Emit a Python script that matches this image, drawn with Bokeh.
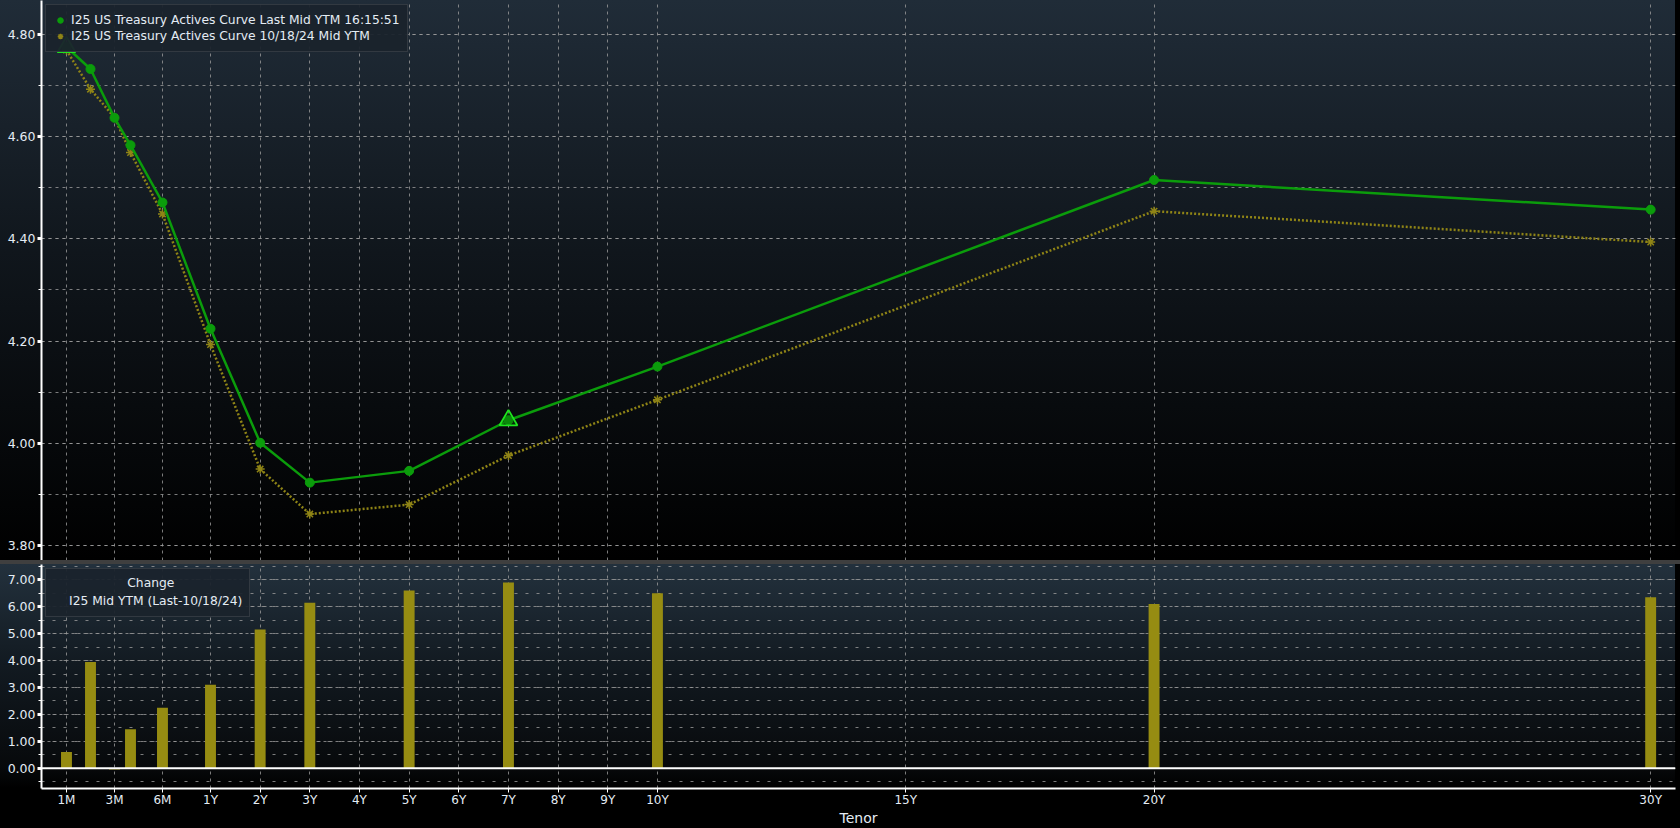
import numpy as np
from bokeh.plotting import figure
from bokeh.layouts import column
from bokeh.models import (Range1d, FixedTicker, NumeralTickFormatter, Legend, LegendItem,
                          ColumnDataSource, Span)
from bokeh.embed import file_html
from bokeh.resources import INLINE

# ---------------- data ----------------
tenors = ["1M", "2M", "3M", "4M", "6M", "1Y", "2Y", "3Y", "5Y", "7Y", "10Y", "20Y", "30Y"]
tenor_months = [1, 2, 3, 4, 6, 12, 24, 36, 60, 84, 120, 240, 360]
last_ytm = [4.775, 4.732, 4.6365, 4.583, 4.471, 4.224, 4.001, 3.923, 3.946, 4.045, 4.150, 4.515, 4.457]
prior_ytm = [4.769, 4.6925, 4.637, 4.5685, 4.4485, 4.193, 3.9495, 3.8615, 3.880, 3.976, 4.085, 4.454, 4.3935]
change_bp = [0.6, 3.95, -0.05, 1.45, 2.25, 3.1, 5.15, 6.15, 6.6, 6.9, 6.5, 6.1, 6.35]
flag_tenors = ["1M", "7Y"]

tick_labels = ["1M", "3M", "6M", "1Y", "2Y", "3Y", "4Y", "5Y", "6Y", "7Y", "8Y", "9Y", "10Y", "15Y", "20Y", "30Y"]
tick_months = [1, 3, 6, 12, 24, 36, 48, 60, 72, 84, 96, 108, 120, 180, 240, 360]

top_ticks = [3.8, 4.0, 4.2, 4.4, 4.6, 4.8]
bot_ticks = [0, 1, 2, 3, 4, 5, 6, 7]

legend_last = "I25 US Treasury Actives Curve Last Mid YTM 16:15:51"
legend_prior = "I25 US Treasury Actives Curve 10/18/24 Mid YTM"
legend_change_title = "Change"
legend_change = "I25 Mid YTM (Last-10/18/24)"


# tenor axis: expanded sub-year segment, linear in years beyond 1Y
def tenor_x(months):
    m = np.asarray(months, dtype=float)
    sub = np.interp(m, [1, 3, 6, 12], [-1.9, -0.933, 0.033, 1.0])
    return np.where(m <= 12, sub, m / 12.0)


xs = tenor_x(tenor_months)
tick_x = [float(v) for v in tenor_x(tick_months)]
label_over = {t: l for t, l in zip(tick_x, tick_labels)}

src = ColumnDataSource(dict(x=xs, last=last_ytm, prior=prior_ytm, chg=change_bp, tenor=tenors))
flag_idx = [tenors.index(t) for t in flag_tenors]
flag_src = ColumnDataSource(dict(x=[xs[i] for i in flag_idx], y=[last_ytm[i] for i in flag_idx]))

GREEN = "#0b9c0b"
OLIVE = "#8f8416"
BAR = "#968c12"
GRID = "#9a9a9a"
TXT = "#e4ecf4"
FONT = "DejaVu Sans"
FS = "12.3px"
W = 1680
RIGHT_STRIP = "linear-gradient(to right, rgba(0,0,0,0) 1675px, #000000 1675px)"

x_range = Range1d(-2.403, 30.50)

# ---------------- top chart ----------------
p1 = figure(width=W, height=560, x_range=x_range, y_range=Range1d(3.7707, 4.866),
            output_backend="svg", toolbar_location=None,
            min_border_left=41, min_border_right=5, min_border_top=0, min_border_bottom=0)
p1.background_fill_alpha = 0
p1.border_fill_alpha = 0
p1.outline_line_color = None
p1.styles = {"background": RIGHT_STRIP + ", linear-gradient(to bottom, #202c38 0%, #10161c 45%, #000000 100%)"}

p1.xaxis.visible = False
p1.xaxis.ticker = FixedTicker(ticks=tick_x)
p1.yaxis.ticker = FixedTicker(ticks=top_ticks, minor_ticks=[round(3.7 + 0.1 * i, 2) for i in range(12)])
p1.yaxis.formatter = NumeralTickFormatter(format="0.00")
for ax in p1.yaxis:
    ax.axis_line_color = "white"
    ax.axis_line_width = 2
    ax.major_tick_line_color = "white"
    ax.major_tick_line_width = 3
    ax.major_tick_out = 4
    ax.major_tick_in = 0
    ax.minor_tick_line_color = "white"
    ax.minor_tick_out = 3
    ax.minor_tick_in = 0
    ax.major_label_text_color = TXT
    ax.major_label_text_font = FONT
    ax.major_label_text_font_size = "12.5px"
    ax.major_label_standoff = 2

p1.xgrid.grid_line_color = GRID
p1.xgrid.grid_line_dash = "3 4"
p1.xgrid.grid_line_alpha = 0.8
p1.ygrid.grid_line_color = GRID
p1.ygrid.grid_line_dash = "3 4"
p1.ygrid.grid_line_alpha = 0.8
p1.ygrid.minor_grid_line_color = GRID
p1.ygrid.minor_grid_line_dash = "3 4"
p1.ygrid.minor_grid_line_alpha = 0.8

p1.line("x", "prior", source=src, line_color=OLIVE, line_width=2.5, line_dash="2 2")
r_prior = p1.scatter("x", "prior", source=src, marker="asterisk", size=9, line_color=OLIVE, line_width=1.5)
p1.line("x", "last", source=src, line_color=GREEN, line_width=2.5)
r_last = p1.scatter("x", "last", source=src, marker="circle", size=9, fill_color=GREEN, line_color=GREEN)
p1.scatter("x", "y", source=flag_src, marker="triangle", size=18, fill_color="#0a6a0a", fill_alpha=0.35,
           line_color="#1ee61e", line_width=1.8, level="overlay")

leg1 = Legend(items=[LegendItem(label=legend_last, renderers=[r_last]),
                     LegendItem(label=legend_prior, renderers=[r_prior])],
              location="top_left", margin=4, padding=7, spacing=0,
              label_text_font=FONT, label_text_font_size=FS, label_text_color=TXT,
              label_height=16, glyph_height=16, glyph_width=14, label_standoff=4,
              background_fill_color="#1a232c", background_fill_alpha=0.95,
              border_line_color="#4a4f55", border_line_width=1)
p1.add_layout(leg1)

# ---------------- bottom chart (4px grey separator band on top) ----------------
p2 = figure(width=W, height=268, x_range=x_range, y_range=Range1d(-0.754, 7.569),
            output_backend="svg", toolbar_location=None,
            min_border_left=41, min_border_right=5, min_border_top=4, min_border_bottom=40)
p2.background_fill_alpha = 0
p2.border_fill_alpha = 0
p2.outline_line_color = None
p2.styles = {"background": "linear-gradient(to bottom, #3f3f3f 0px, #3f3f3f 4px, rgba(0,0,0,0) 4px), "
                           + RIGHT_STRIP + ", linear-gradient(to bottom, #3f3f3f 0px, #3f3f3f 4px, #23313d 4px, "
                           "#121a21 104px, #07090b 208px, #000000 228px, #000000 100%)"}

p2.xaxis.ticker = FixedTicker(ticks=tick_x)
p2.xaxis.major_label_overrides = label_over
p2.xaxis.axis_label = "Tenor"
p2.yaxis.ticker = FixedTicker(ticks=bot_ticks, minor_ticks=[-0.5 + 0.5 * i for i in range(17)])
p2.yaxis.formatter = NumeralTickFormatter(format="0.00")
for ax in list(p2.xaxis) + list(p2.yaxis):
    ax.axis_line_color = "white"
    ax.axis_line_width = 2
    ax.major_tick_line_color = "white"
    ax.major_tick_line_width = 1
    ax.major_tick_out = 4
    ax.major_tick_in = 0
    ax.minor_tick_line_color = "white"
    ax.minor_tick_out = 3
    ax.minor_tick_in = 0
    ax.major_label_text_color = TXT
    ax.major_label_text_font = FONT
    ax.major_label_text_font_size = "12.5px"
    ax.major_label_standoff = 2
p2.xaxis.minor_tick_line_color = None
p2.xaxis.major_label_standoff = 0
p2.xaxis.major_label_text_font_size = "12px"
p2.yaxis.major_tick_line_width = 3
p2.xaxis.axis_label_text_color = TXT
p2.xaxis.axis_label_text_font = FONT
p2.xaxis.axis_label_text_font_size = "14px"
p2.xaxis.axis_label_text_font_style = "normal"
p2.xaxis.axis_label_standoff = 0

p2.xgrid.grid_line_color = GRID
p2.xgrid.grid_line_dash = "3 4"
p2.xgrid.grid_line_alpha = 0.8
p2.ygrid.grid_line_color = GRID
p2.ygrid.grid_line_dash = "3 3"
p2.ygrid.grid_line_alpha = 0.8
p2.ygrid.minor_grid_line_color = GRID
p2.ygrid.minor_grid_line_dash = "3 8"
p2.ygrid.minor_grid_line_alpha = 0.8

p2.vbar(x="x", top="chg", bottom=0, width=0.22, source=src, fill_color=BAR, line_color=None)
p2.add_layout(Span(location=0, dimension="width", line_color="white", line_width=2))
r_leg = p2.quad(left=[], right=[], top=[], bottom=[], fill_alpha=0, line_color=OLIVE,
                line_dash="2 2", line_width=1)

# title centred over the entry (non-breaking spaces push it to the middle)
leg2 = Legend(items=[LegendItem(label=legend_change, renderers=[r_leg])],
              title="\u00a0" * 19 + legend_change_title, title_text_font=FONT, title_text_font_size=FS,
              title_text_color=TXT, title_text_font_style="normal", title_standoff=3,
              location="top_left", margin=4, padding=7, spacing=0,
              label_text_font=FONT, label_text_font_size=FS, label_text_color=TXT,
              label_height=16, glyph_height=12, glyph_width=12, label_standoff=4,
              background_fill_color="#1a232c", background_fill_alpha=0.95,
              border_line_color="#4a4f55", border_line_width=1)
p2.add_layout(leg2)

layout = column(p1, p2, spacing=0, styles={"background-color": "#000000"})

open("out.html", "w").write(file_html(layout, INLINE))
